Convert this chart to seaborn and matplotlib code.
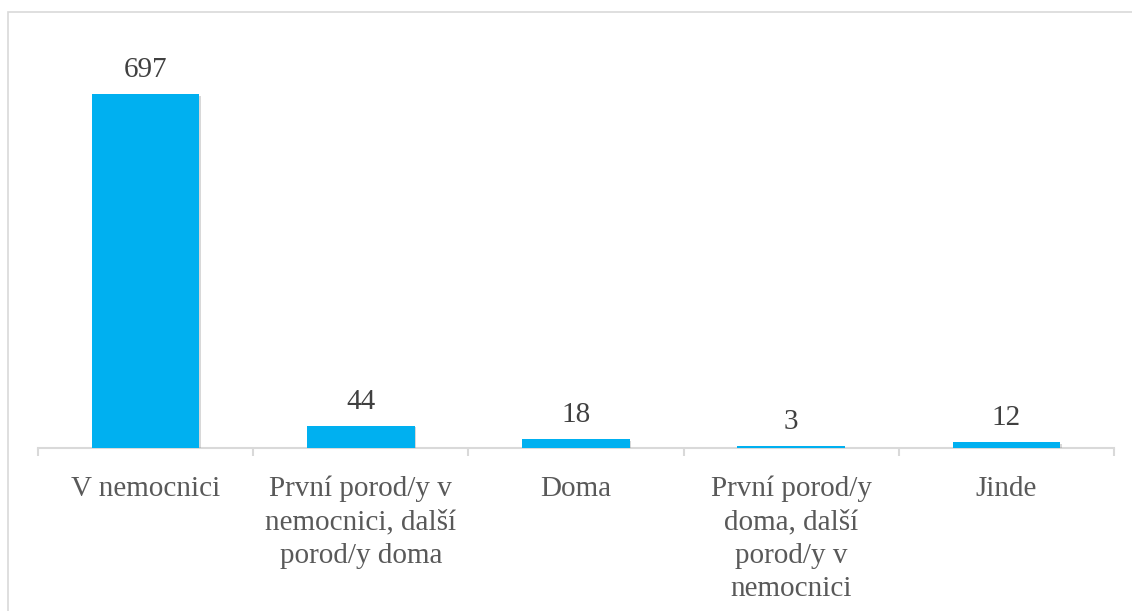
import matplotlib
matplotlib.use("Agg")
import matplotlib.pyplot as plt
import matplotlib.patheffects as pe
from matplotlib.patches import Rectangle
import seaborn as sns
import pandas as pd
import numpy as np

categories = [
    "V nemocnici",
    "První porod/y v\nnemocnici, další\nporod/y doma",
    "Doma",
    "První porod/y\ndoma, další\nporod/y v\nnemocnici",
    "Jinde",
]
counts = [697, 44, 18, 3, 12]

sns.set_theme(style="white")
plt.rcParams["font.family"] = ["Liberation Serif", "DejaVu Serif"]

W, H = 1132, 611
fig = plt.figure(figsize=(W / 100, H / 100), dpi=100)

# outer frame of the chart area (only left/top edges fall inside the canvas)
fig.patches.append(Rectangle((8 / W, -0.1), 1.2, (H - 12) / H + 0.1,
                             transform=fig.transFigure, fill=False,
                             edgecolor="#D9D9D9", linewidth=1.2))

left, right = 38, 1114
base_y = 448
ymax = 800
px_per_unit = (base_y - 94) / 697
top_y = base_y - ymax * px_per_unit
ax = fig.add_axes([left / W, (H - base_y) / H, (right - left) / W, (base_y - top_y) / H])

df = pd.DataFrame({"kategorie": categories, "pocet": counts})
sns.barplot(data=df, x="kategorie", y="pocet", color="#00B0F0", width=0.5,
            saturation=1, ax=ax)

for bar in ax.patches:
    bar.set_zorder(3)
    bar.set_linewidth(0)
    bar.set_path_effects([pe.SimplePatchShadow(offset=(1.2, -1.2), shadow_rgbFace="#808080", alpha=0.3),
                          pe.Normal()])

ax.bar_label(ax.containers[0], labels=[str(v) for v in counts], padding=8,
             fontsize=21, color="#404040")

ax.set_ylim(0, ymax)
ax.set_xlim(-0.5, len(categories) - 0.5)
ax.set_xlabel("")
ax.set_ylabel("")
ax.set_yticks([])
for s in ["top", "right", "left"]:
    ax.spines[s].set_visible(False)
ax.spines["bottom"].set_color("#D9D9D9")
ax.spines["bottom"].set_linewidth(1.5)

ax.tick_params(axis="x", which="major", length=0, pad=20, labelsize=21,
               labelcolor="#595959")
for t in ax.get_xticklabels():
    t.set_linespacing(1.36)
    t.set_verticalalignment("top")
ax.set_xticks(np.arange(-0.5, len(categories)), minor=True)
ax.tick_params(axis="x", which="minor", length=6, width=1.5, color="#D9D9D9",
               direction="out", bottom=True)
ax.set_facecolor("none")

fig.savefig("out.png", dpi=100, facecolor="white")
